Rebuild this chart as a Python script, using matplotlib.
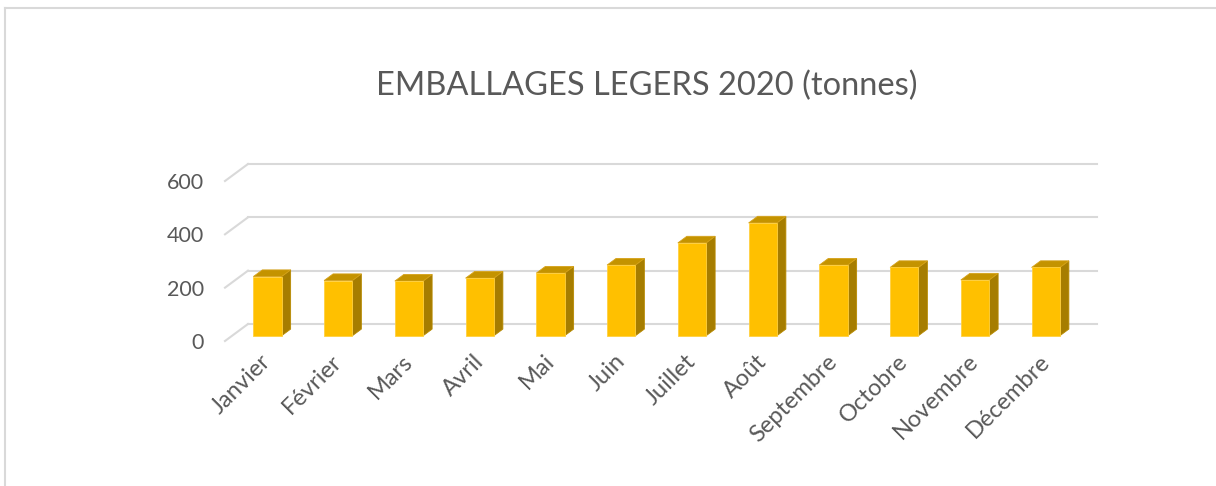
import matplotlib.pyplot as plt
from matplotlib.patches import Polygon
from matplotlib.lines import Line2D
import numpy as np

plt.rcParams['font.family'] = ['Lato', 'DejaVu Sans']

months = ["Janvier", "Février", "Mars", "Avril", "Mai", "Juin", "Juillet",
          "Août", "Septembre", "Octobre", "Novembre", "Décembre"]
tonnes = [222, 207, 205, 216, 235, 265, 348, 423, 265, 256, 209, 256]
yticks = [0, 200, 400, 600]

# fake 3d: depth offset in data units
dx, dy = 0.325, 63.75
z0, z1 = 0.31, 0.70
w = 0.4
txt = '#595959'
grid = '#d9d9d9'

fig = plt.figure(figsize=(12.16, 4.86), dpi=100)
W, H = 1216, 486
ax = fig.add_axes([225 / W, (H - 341) / H, 872 / W, 177 / H])
ax.set_xlim(0, 12 + dx)
ax.set_ylim(0, 600 + dy)

# gridlines on the back wall + slanted floor edges
for v in yticks:
    ax.plot([dx, 12 + dx], [v + dy, v + dy], color=grid, lw=1.5, zorder=1, clip_on=False)
    ax.plot([0, dx], [v, v + dy], color=grid, lw=1.5, zorder=1, clip_on=False)

def p(x, y, z):
    return (x + z * dx, y + z * dy)

for i, v in enumerate(tonnes):
    x0 = i + 0.5 - w / 2
    x1 = i + 0.5 + w / 2
    front = [p(x0, 0, z0), p(x1, 0, z0), p(x1, v, z0), p(x0, v, z0)]
    side = [p(x1, 0, z0), p(x1, 0, z1), p(x1, v, z1), p(x1, v, z0)]
    top = [p(x0, v, z0), p(x1, v, z0), p(x1, v, z1), p(x0, v, z1)]
    ax.add_patch(Polygon(side, closed=True, fc='#a67d00', ec='#b88a00', lw=0.6, zorder=3, clip_on=False))
    ax.add_patch(Polygon(top, closed=True, fc='#c49300', ec='#d6a21a', lw=0.6, zorder=3, clip_on=False))
    ax.add_patch(Polygon(front, closed=True, fc='#ffc000', ec='#ffd040', lw=0.6, zorder=4, clip_on=False))

ax.set_yticks(yticks)
ax.set_yticklabels([str(t) for t in yticks])
ax.set_xticks(np.arange(12) + 0.5)
ax.set_xticklabels(months, rotation=45, ha='right', rotation_mode='anchor')
ax.tick_params(axis='both', length=0, labelcolor=txt)
ax.tick_params(axis='y', pad=15, labelsize=15.5)
ax.tick_params(axis='x', pad=7, labelsize=17)
for s in ax.spines.values():
    s.set_visible(False)
ax.set_facecolor('none')

fig.text(647 / W, 1 - 86 / H, "EMBALLAGES LEGERS 2020 (tonnes)", ha='center', va='center',
         fontsize=23.5, color=txt)

# chart frame (only top and left visible)
fig.add_artist(Line2D([4.5 / W, 1], [1 - 8.5 / H, 1 - 8.5 / H], color=grid, lw=1.5))
fig.add_artist(Line2D([4.5 / W, 4.5 / W], [0, 1 - 8.5 / H], color=grid, lw=1.5))

fig.savefig('out.png', dpi=100, facecolor='white')
